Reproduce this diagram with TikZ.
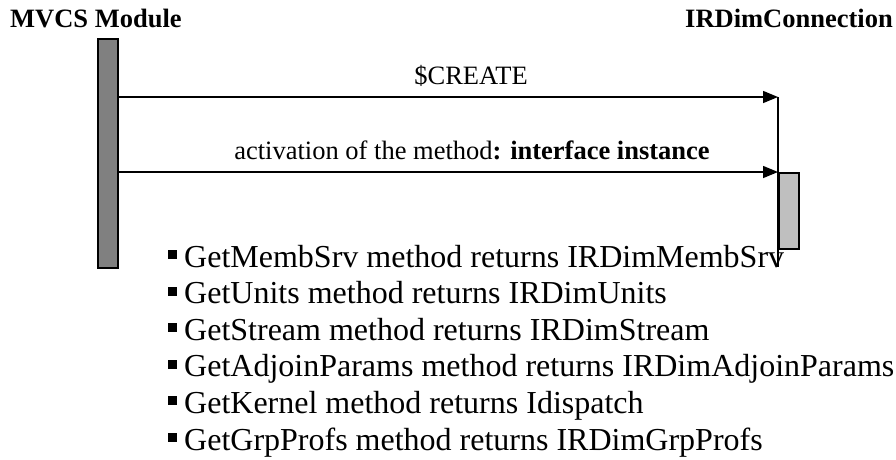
\documentclass[tikz,border=0pt]{standalone}
\usepackage{fontspec}
\setmainfont{Liberation Serif}
\usetikzlibrary{arrows.meta}
\begin{document}
\begin{tikzpicture}[x=1pt,y=-1pt,
  lbl/.style={inner sep=0pt, anchor=base, font=\fontsize{26.5}{30}\selectfont},
  head/.style={inner sep=0pt, font=\fontsize{26.5}{30}\selectfont\bfseries},
  item/.style={inner sep=0pt, anchor=base west, font=\fontsize{32}{36}\selectfont},
  msg/.style={line width=1.5pt, -{Triangle[length=15pt,width=12pt]}},
  bar/.style={draw, line width=1.5pt, inner sep=0pt, minimum width=20pt, anchor=north west}]
\useasboundingbox (0,0) rectangle (896,459);

% participant headings
\node[head, anchor=base west] (hmvcs) at (10,27) {MVCS Module};
\node[head, anchor=base east] (hconn) at (893,27) {IRDimConnection};

% activation bar of the caller
\node[bar, fill=black!50, minimum height=229pt] (mvcs) at (97,38) {};

% returned interfaces
\foreach \t [count=\i] in {GetMembSrv method returns IRDimMembSrv,
                           GetUnits method returns IRDimUnits,
                           GetStream method returns IRDimStream,
                           GetAdjoinParams method returns IRDimAdjoinParams,
                           GetKernel method returns Idispatch,
                           GetGrpProfs method returns IRDimGrpProfs}
  \node[item] (item\i) at (168,{267+36.6*(\i-1)}) {\rule[8pt]{9pt}{9pt}\hspace{7pt}\t};

% lifeline and activation of the connection object
\coordinate (lifetop) at (778,97);
\coordinate (lifebot) at (778,267);
\draw[line width=1.5pt] (lifetop) -- (lifebot);
\node[bar, fill=black!25, minimum height=76pt] (act) at (778,172) {};

% messages
\draw[msg] (mvcs.east |- lifetop) -- (lifetop);
\draw[msg] (mvcs.east |- act.north west) -- (act.north west);
\node[lbl] (create) at (471,84) {\$CREATE};
\node[lbl] (activ) at (472,159) {activation of the method\textbf{: interface instance}};
\end{tikzpicture}
\end{document}
